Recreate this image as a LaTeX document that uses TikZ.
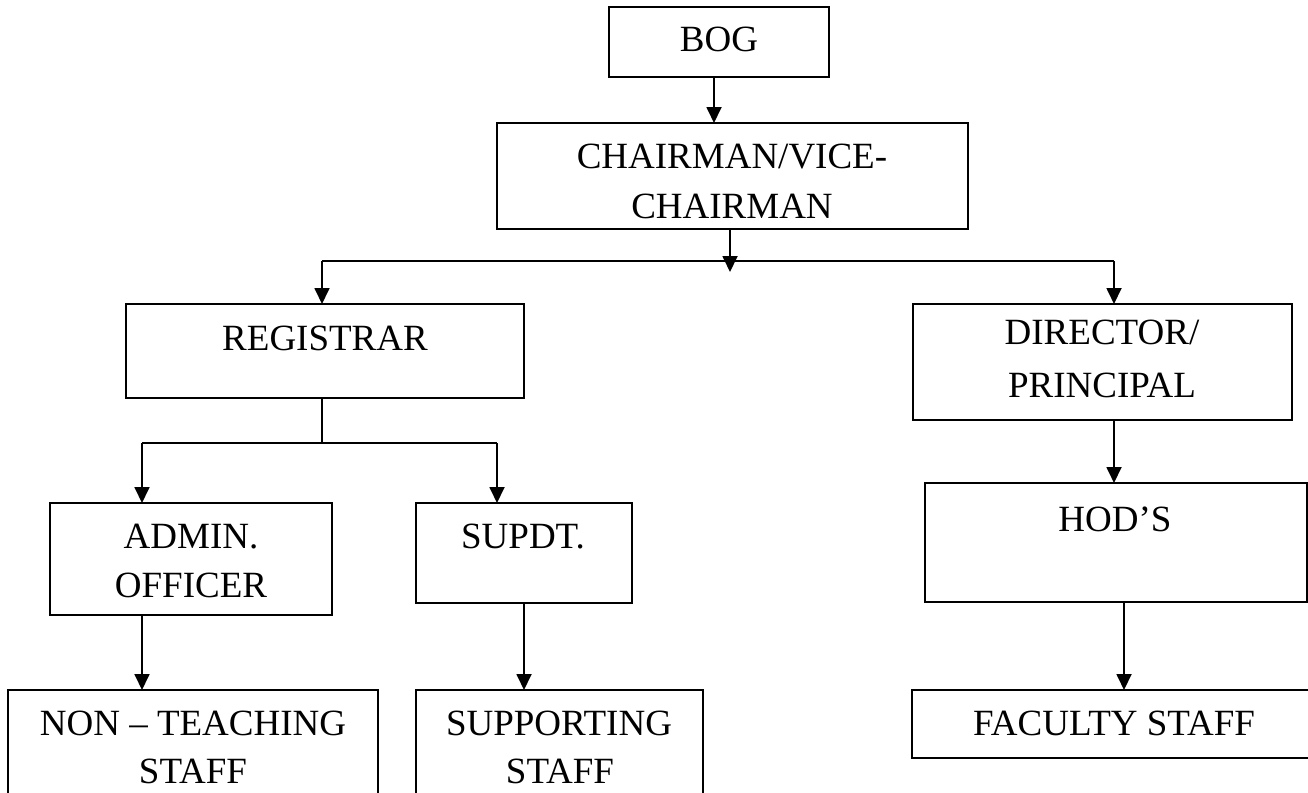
\documentclass[tikz,border=0pt]{standalone}
\usepackage{fontspec}
\setmainfont{Liberation Serif}
\usetikzlibrary{arrows.meta}
\tikzset{
  box/.style={draw, line width=1.7pt, rectangle, inner sep=0pt, outer sep=0pt},
  lbl/.style={inner sep=0pt, outer sep=0pt, anchor=base, font=\fontsize{37}{44}\selectfont},
  conn/.style={line width=1.8pt},
  arr/.style={line width=1.8pt, -{Triangle[length=16pt,width=15pt]}}
}
\begin{document}
\begin{tikzpicture}[x=1pt,y=-1pt]
\useasboundingbox (0,0) rectangle (1308,792);
\clip (0,0) rectangle (1308,792);
\fill[white] (0,0) rectangle (1308,792);

% boxes
\node[box, minimum width=220pt, minimum height=70pt] (bog) at (719,42) {};
\node[box, minimum width=471pt, minimum height=106pt] (chair) at (732.5,176) {};
\node[box, minimum width=398pt, minimum height=94pt] (reg) at (325,351) {};
\node[box, minimum width=379pt, minimum height=116pt] (dir) at (1102.5,362) {};
\node[box, minimum width=282pt, minimum height=112pt] (admin) at (191,559) {};
\node[box, minimum width=216pt, minimum height=100pt] (supdt) at (524,553) {};
\node[box, minimum width=382pt, minimum height=119pt] (hod) at (1116,542.5) {};
\node[box, minimum width=370pt, minimum height=130pt] (nont) at (193,755) {};
\node[box, minimum width=287pt, minimum height=130pt] (supp) at (559.5,755) {};
\node[box, minimum width=408pt, minimum height=68pt] (fac) at (1116,724) {};

% texts
\node[lbl] (bogT) at (719,52) {BOG};
\node[lbl] (chairT1) at (732,168) {CHAIRMAN/VICE-};
\node[lbl] (chairT2) at (732,218) {CHAIRMAN};
\node[lbl] (regT) at (325,350) {REGISTRAR};
\node[lbl] (dirT1) at (1102,344) {DIRECTOR/};
\node[lbl] (dirT2) at (1102,397) {PRINCIPAL};
\node[lbl] (adminT1) at (191,548) {ADMIN.};
\node[lbl] (adminT2) at (191,597) {OFFICER};
\node[lbl] (supdtT) at (523,548) {SUPDT.};
\node[lbl] (hodT) at (1115,531) {HOD’S};
\node[lbl] (nontT1) at (193,735) {NON – TEACHING};
\node[lbl] (nontT2) at (193,783) {STAFF};
\node[lbl] (suppT1) at (559,735) {SUPPORTING};
\node[lbl] (suppT2) at (560,783) {STAFF};
\node[lbl] (facT) at (1114,735) {FACULTY STAFF};

% junction coordinates
\coordinate (hl) at (322,261);
\coordinate (hr) at (1114,261);
\coordinate (cj) at (730,272);
\coordinate (rj) at (322,443);
\coordinate (rl) at (142,443);
\coordinate (rr) at (497,443);

% connectors
\draw[arr] ([xshift=-5pt]bog.south) -- ([xshift=-5pt]bog.south |- chair.north);
\draw[arr] ([xshift=-2.5pt]chair.south) -- (cj);
\draw[conn] (hl) -- (hr);
\draw[arr] (hl) -- (hl |- reg.north);
\draw[arr] (hr) -- (hr |- dir.north);
\draw[conn] (rj |- reg.south) -- (rj);
\draw[conn] (rl) -- (rr);
\draw[arr] (rl) -- (rl |- admin.north);
\draw[arr] (rr) -- (rr |- supdt.north);
\draw[arr] (rl |- admin.south) -- (rl |- nont.north);
\draw[arr] (supdt.south) -- (supdt.south |- supp.north);
\draw[arr] (hr |- dir.south) -- (hr |- hod.north);
\draw[arr] ([xshift=8pt]hod.south) -- ([xshift=8pt]hod.south |- fac.north);
\end{tikzpicture}
\end{document}
